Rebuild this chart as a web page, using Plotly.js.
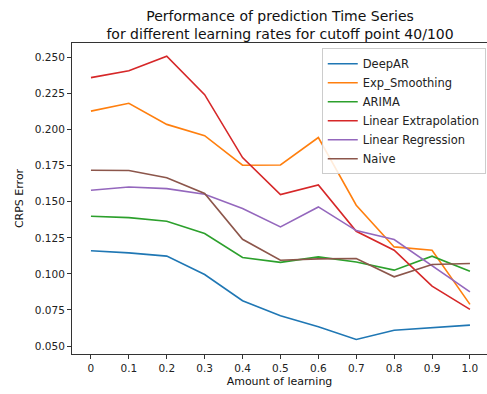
<!DOCTYPE html>
<html><head><meta charset="utf-8">
<script src="https://cdn.plot.ly/plotly-3.0.1.min.js"></script>
<style>html,body{margin:0;padding:0;background:#fff;overflow:hidden}</style>
</head><body><div id="chart" style="width:487px;height:394px"></div>
<script>
const learning = [0, 0.1, 0.2, 0.3, 0.4, 0.5, 0.6, 0.7, 0.8, 0.9, 1.0];
const tickLabels = ['0','0.1','0.2','0.3','0.4','0.5','0.6','0.7','0.8','0.9','1.0'];
const deepAR = [0.116, 0.1146, 0.1123, 0.0996, 0.0814, 0.071, 0.0634, 0.0546, 0.061, 0.0627, 0.0645];
const expSmoothing = [0.2128, 0.2182, 0.2036, 0.1958, 0.1753, 0.1755, 0.1945, 0.1476, 0.1187, 0.1164, 0.0789];
const arima = [0.14, 0.139, 0.1365, 0.128, 0.1114, 0.108, 0.1118, 0.1083, 0.1026, 0.1123, 0.1019];
const linExtrap = [0.236, 0.2408, 0.2509, 0.2242, 0.1806, 0.155, 0.1616, 0.1295, 0.1164, 0.0915, 0.0754];
const linReg = [0.158, 0.1602, 0.1591, 0.1552, 0.1453, 0.1326, 0.1464, 0.130, 0.1238, 0.106, 0.0876];
const naive = [0.1718, 0.1716, 0.1667, 0.1557, 0.124, 0.1095, 0.1104, 0.1107, 0.098, 0.1065, 0.1072];
const names = ['DeepAR','Exp_Smoothing','ARIMA','Linear Extrapolation','Linear Regression','Naive'];
const series = [deepAR, expSmoothing, arima, linExtrap, linReg, naive];
const colors = ['#1f77b4','#ff7f0e','#2ca02c','#d62728','#9467bd','#8c564b'];
const yTicks = [0.05,0.075,0.1,0.125,0.15,0.175,0.2,0.225,0.25];

const traces = series.map((s,i)=>({x:learning, y:s, name:names[i], mode:'lines', type:'scatter',
  line:{color:colors[i], width:1.6}}));
const layout = {
  width:487, height:394,
  margin:{l:72, r:0, t:43, b:40},
  paper_bgcolor:'#fff', plot_bgcolor:'#fff',
  font:{family:'DejaVu Sans', size:10.5, color:'#222'},
  title:{text:'Performance of prediction Time Series<br>for different learning rates for cutoff point 40/100',
    font:{family:'DejaVu Sans', size:14, color:'#111'}, x:0.575, xanchor:'center', yref:'container', y:0.9467, yanchor:'middle'},
  xaxis:{range:[-0.05,1.045], tickvals:learning, ticktext:tickLabels, showgrid:false, zeroline:false,
    showline:true, linecolor:'#333', linewidth:1, mirror:true, ticks:'outside', ticklen:4, tickcolor:'#333',
    title:{text:'Amount of learning', font:{family:'DejaVu Sans', size:11, color:'#111'}, standoff:4}},
  yaxis:{range:[0.0445,0.26], tickvals:yTicks, ticktext:yTicks.map(v=>v.toFixed(3)), showgrid:false, zeroline:false,
    showline:true, linecolor:'#333', linewidth:1, mirror:true, ticks:'outside', ticklen:4, tickcolor:'#333',
    title:{text:'CRPS Error', font:{family:'DejaVu Sans', size:11, color:'#111'}, standoff:8}},
  legend:{x:0.997, y:0.983, xanchor:'right', yanchor:'top', bgcolor:'rgba(255,255,255,0.85)',
    bordercolor:'#ccc', borderwidth:1, font:{family:'DejaVu Sans', size:11.5, color:'#222'},
    tracegroupgap:0, itemwidth:30},
  showlegend:true
};
Plotly.newPlot('chart', traces, layout, {displayModeBar:false, staticPlot:true});
</script></body></html>
